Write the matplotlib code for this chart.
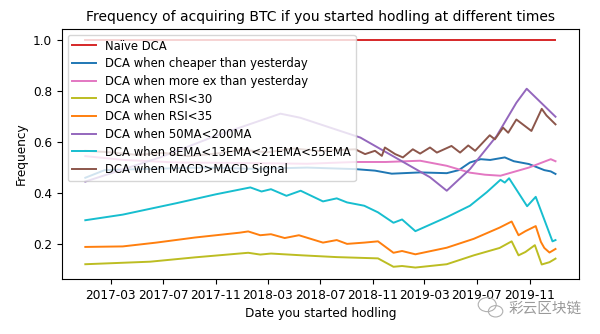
import matplotlib
matplotlib.use("Agg")
import matplotlib.pyplot as plt
from matplotlib.patches import Ellipse
import pandas as pd

# values
naive_dates = ["2017-01-01", "2019-12-31"]
naive_vals = [1.0, 1.0]

cheaper_dates = ["2017-01-01", "2017-02-15", "2017-06-01", "2017-10-01", "2018-02-01",
                 "2018-06-01", "2018-09-21", "2018-11-06", "2018-12-15", "2019-02-19",
                 "2019-04-22", "2019-05-20", "2019-06-15", "2019-07-10", "2019-08-01",
                 "2019-09-04", "2019-09-25", "2019-10-30", "2019-12-05", "2019-12-20",
                 "2019-12-31"]
cheaper_vals = [0.46, 0.49, 0.495, 0.50, 0.495,
                0.50, 0.494, 0.488, 0.476, 0.481,
                0.478, 0.49, 0.52, 0.533, 0.53,
                0.54, 0.525, 0.514, 0.49, 0.485,
                0.475]

moreex_dates = ["2017-01-01", "2017-04-01", "2017-08-01", "2018-01-01", "2018-06-01",
                "2018-09-21", "2018-12-01", "2019-02-19", "2019-04-22", "2019-06-15",
                "2019-07-20", "2019-08-25", "2019-10-30", "2019-12-20", "2019-12-31"]
moreex_vals = [0.545, 0.53, 0.52, 0.518, 0.515,
               0.522, 0.522, 0.527, 0.507, 0.48,
               0.472, 0.468, 0.50, 0.533, 0.525]

rsi30_dates = ["2017-01-01", "2017-06-01", "2017-09-13", "2018-01-15", "2018-02-12",
               "2018-03-09", "2018-05-20", "2018-08-09", "2018-11-13", "2018-12-19",
               "2019-01-08", "2019-02-08", "2019-04-22", "2019-06-24", "2019-08-23",
               "2019-09-20", "2019-10-06", "2019-10-22", "2019-11-13", "2019-11-29",
               "2019-12-17", "2019-12-31"]
rsi30_vals = [0.12, 0.13, 0.147, 0.165, 0.158,
              0.162, 0.155, 0.148, 0.143, 0.11,
              0.113, 0.107, 0.12, 0.155, 0.184,
              0.21, 0.155, 0.168, 0.195, 0.119,
              0.128, 0.142]

rsi35_dates = ["2017-01-01", "2017-03-29", "2017-06-15", "2017-09-13", "2017-12-26",
               "2018-01-15", "2018-02-12", "2018-03-09", "2018-04-10", "2018-05-13",
               "2018-07-08", "2018-08-09", "2018-09-02", "2018-10-12", "2018-11-13",
               "2018-12-19", "2019-01-08", "2019-02-08", "2019-04-22", "2019-06-24",
               "2019-08-23", "2019-09-20", "2019-10-06", "2019-10-22", "2019-11-15",
               "2019-11-27", "2019-12-05", "2019-12-17", "2019-12-31"]
rsi35_vals = [0.188, 0.19, 0.205, 0.225, 0.244,
              0.249, 0.234, 0.238, 0.223, 0.234,
              0.205, 0.215, 0.20, 0.205, 0.21,
              0.165, 0.172, 0.159, 0.185, 0.22,
              0.264, 0.288, 0.234, 0.25, 0.27,
              0.208, 0.184, 0.166, 0.18]

ma_dates = ["2017-01-01", "2017-06-24", "2017-11-01", "2018-03-31", "2018-05-16",
            "2018-10-03", "2019-03-14", "2019-04-22", "2019-06-15", "2019-08-16",
            "2019-10-01", "2019-10-25", "2019-12-31"]
ma_vals = [0.445, 0.54, 0.625, 0.712, 0.696,
           0.618, 0.462, 0.409, 0.494, 0.624,
           0.755, 0.81, 0.70]

ema_dates = ["2017-01-01", "2017-03-29", "2017-08-01", "2017-11-01", "2018-01-20",
             "2018-02-15", "2018-03-09", "2018-04-14", "2018-05-17", "2018-07-08",
             "2018-08-09", "2018-09-02", "2018-10-12", "2018-11-13", "2018-12-19",
             "2019-01-08", "2019-02-08", "2019-04-22", "2019-06-15", "2019-07-24",
             "2019-08-25", "2019-09-04", "2019-09-14", "2019-10-26", "2019-11-15",
             "2019-12-24", "2019-12-31"]
ema_vals = [0.293, 0.315, 0.36, 0.395, 0.422,
            0.406, 0.415, 0.389, 0.409, 0.367,
            0.379, 0.363, 0.35, 0.324, 0.283,
            0.296, 0.25, 0.305, 0.35, 0.403,
            0.452, 0.441, 0.458, 0.348, 0.385,
            0.21, 0.215]

macd_dates = ["2017-01-01", "2017-03-01", "2017-05-01", "2017-07-01", "2017-09-01",
              "2017-11-01", "2018-01-01", "2018-03-01", "2018-05-01", "2018-07-01",
              "2018-09-21", "2018-10-14", "2018-11-06", "2018-11-22", "2018-11-29",
              "2018-12-23", "2019-01-10", "2019-02-02", "2019-02-19", "2019-03-14",
              "2019-03-30", "2019-05-03", "2019-05-23", "2019-06-11", "2019-06-27",
              "2019-07-31", "2019-08-12", "2019-08-31", "2019-09-12", "2019-10-01",
              "2019-11-05", "2019-11-29", "2019-12-10", "2019-12-31"]
macd_vals = [0.566, 0.56, 0.55, 0.558, 0.545,
             0.555, 0.57, 0.56, 0.575, 0.565,
             0.572, 0.553, 0.566, 0.546, 0.579,
             0.553, 0.54, 0.572, 0.555, 0.579,
             0.559, 0.585, 0.559, 0.587, 0.566,
             0.627, 0.611, 0.657, 0.637, 0.689,
             0.644, 0.731, 0.705, 0.67]

series = [
    ("Naïve DCA", naive_dates, naive_vals, "tab:red"),
    ("DCA when cheaper than yesterday", cheaper_dates, cheaper_vals, "tab:blue"),
    ("DCA when more ex than yesterday", moreex_dates, moreex_vals, "tab:pink"),
    ("DCA when RSI<30", rsi30_dates, rsi30_vals, "tab:olive"),
    ("DCA when RSI<35", rsi35_dates, rsi35_vals, "tab:orange"),
    ("DCA when 50MA<200MA", ma_dates, ma_vals, "tab:purple"),
    ("DCA when 8EMA<13EMA<21EMA<55EMA", ema_dates, ema_vals, "tab:cyan"),
    ("DCA when MACD>MACD Signal", macd_dates, macd_vals, "tab:brown"),
]

tick_dates = ["2017-03-01", "2017-07-01", "2017-11-01", "2018-03-01", "2018-07-01",
              "2018-11-01", "2019-03-01", "2019-07-01", "2019-11-01"]
tick_labels = ["2017-03", "2017-07", "2017-11", "2018-03", "2018-07",
               "2018-11", "2019-03", "2019-07", "2019-11"]

plt.rcParams["font.size"] = 8.7

fig = plt.figure(figsize=(6.0, 3.34), dpi=100)
ax = fig.add_axes([0.103, 0.165, 0.862, 0.748])

for label, d, v, c in series:
    ax.plot(pd.to_datetime(d), v, color=c, label=label, lw=1.4)

ax.set_xticks(pd.to_datetime(tick_dates))
ax.set_xticklabels(tick_labels)
ax.set_yticks([0.2, 0.4, 0.6, 0.8, 1.0])
ax.set_title("Frequency of acquiring BTC if you started hodling at different times", fontsize=10)
ax.set_xlabel("Date you started hodling")
ax.set_ylabel("Frequency")
ax.legend(loc="upper left", fontsize=8.4, labelspacing=0.4)

# watermark
fig.text(0.847, 0.075, "彩云区块链", family=["Noto Sans CJK SC", "DejaVu Sans"],
         fontsize=10.5, color="#9a9a9a", va="center")
fig.patches.append(Ellipse((0.812, 0.088), 0.03, 0.042, transform=fig.transFigure,
                           fill=False, ec="#b0b0b0", lw=0.8))
fig.patches.append(Ellipse((0.826, 0.068), 0.024, 0.034, transform=fig.transFigure,
                           fill=False, ec="#b0b0b0", lw=0.8))

plt.savefig("out.png", dpi=100)
